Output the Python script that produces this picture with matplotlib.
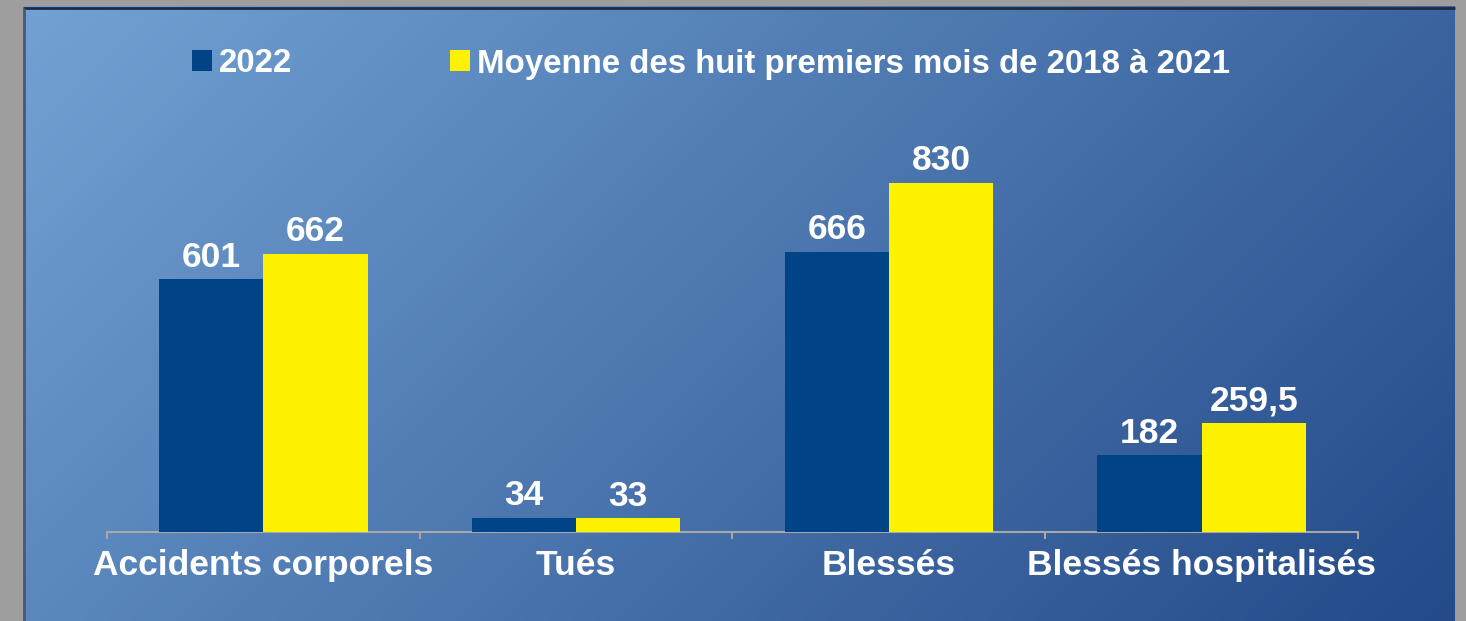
import numpy as np
import matplotlib
matplotlib.use('Agg')
import matplotlib.pyplot as plt

categories = ['Accidents corporels', 'Tués', 'Blessés', 'Blessés hospitalisés']
values_2022 = [601, 34, 666, 182]
values_avg = [662, 33, 830, 259.5]
series_names = ['2022', 'Moyenne des huit premiers mois de 2018 à 2021']

plt.rcParams['font.family'] = ['Liberation Sans', 'DejaVu Sans']

W, H = 1466, 621
fig = plt.figure(figsize=(W / 100, H / 100), dpi=100, facecolor='#9e9e9e')

# Gradient panel (light top-left -> dark bottom-right)
px0, px1, py0, py1 = 23, 1455, 6, 621
bg = fig.add_axes([px0 / W, 0, (px1 - px0) / W, (py1 - py0) / H])
bg.set_axis_off()
nx, ny = 300, 130
gx, gy = np.meshgrid(np.linspace(0, 1, nx), np.linspace(0, 1, ny))
t = (gx * (px1 - px0) + gy * (py1 - py0)) / ((px1 - px0) + (py1 - py0))
c0 = np.array([114, 162, 212]) / 255
c1 = np.array([36, 74, 137]) / 255
img = c0[None, None, :] * (1 - t[..., None]) + c1[None, None, :] * t[..., None]
bg.imshow(img, aspect='auto', extent=[0, 1, 1, 0], interpolation='bilinear')
bg.set_xlim(0, 1)
bg.set_ylim(1, 0)
bg.plot([0, 1], [0.003, 0.003], color='#1e2b44', lw=2, clip_on=False,
        solid_capstyle='butt')
bg.plot([0.001, 0.001], [0.003, 1], color='#4a5a72', lw=2, clip_on=False,
        solid_capstyle='butt')

# Main chart axes
ax_left, ax_right, base_y = 107, 1358, 532
ax = fig.add_axes([ax_left / W, (H - base_y) / H, (ax_right - ax_left) / W, 420 / H])
ax.patch.set_alpha(0)

x = np.arange(len(categories))
bw = 1 / 3
b1 = ax.bar(x - bw / 2, values_2022, bw, color='#004488', label=series_names[0], zorder=3)
b2 = ax.bar(x + bw / 2, values_avg, bw, color='#fff200', label=series_names[1], zorder=3)

fmt = lambda v: f'{v:g}'.replace('.', ',')
for bars, vals in ((b1, values_2022), (b2, values_avg)):
    ax.bar_label(bars, labels=[fmt(v) for v in vals], padding=4,
                 color='white', fontsize=25.5, fontweight='bold')

ax.set_xlim(-0.5, len(categories) - 0.5)
ax.set_ylim(0, 830 * 420 / 349)

for s in ['top', 'right', 'left']:
    ax.spines[s].set_visible(False)
ax.spines['bottom'].set_color('#a8a8a8')
ax.spines['bottom'].set_linewidth(1.5)
ax.set_yticks([])

ax.set_xticks(x)
ax.set_xticklabels(categories, color='white', fontsize=25.5, fontweight='bold')
ax.tick_params(axis='x', which='major', length=0, pad=12)
ax.set_xticks(np.arange(len(categories) + 1) - 0.5, minor=True)
ax.tick_params(axis='x', which='minor', length=5, width=1.5, color='#a8a8a8')

leg = fig.legend(loc='center', bbox_to_anchor=(711 / W, 1 - 64 / H), ncol=2,
                 frameon=False, fontsize=23.8, handlelength=0.6, handleheight=0.6,
                 handletextpad=0.22, columnspacing=4.75)
for txt in leg.get_texts():
    txt.set_color('white')
    txt.set_fontweight('bold')

fig.savefig('out.png', dpi=100, facecolor=fig.get_facecolor())
